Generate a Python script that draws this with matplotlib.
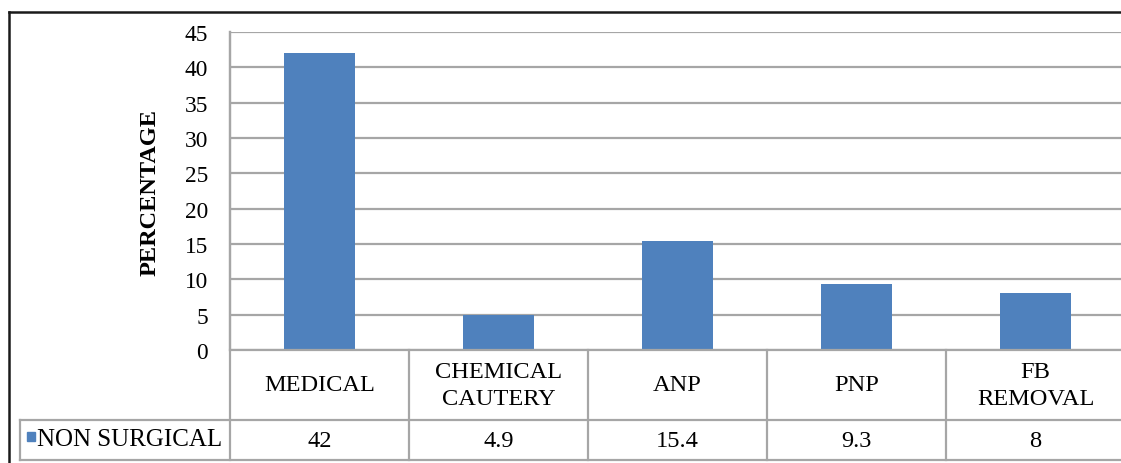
import matplotlib
matplotlib.use("Agg")
import matplotlib.pyplot as plt
from matplotlib.lines import Line2D
from matplotlib.transforms import blended_transform_factory

categories = ["MEDICAL", "CHEMICAL\nCAUTERY", "ANP", "PNP", "FB\nREMOVAL"]
values = [42, 4.9, 15.4, 9.3, 8]
value_labels = ["42", "4.9", "15.4", "9.3", "8"]
series_name = "NON SURGICAL"
yticks = [0, 5, 10, 15, 20, 25, 30, 35, 40, 45]

W, H = 1121, 464
plt.rcParams['font.family'] = ['Liberation Serif', 'DejaVu Serif']

fig = plt.figure(figsize=(W / 100, H / 100), dpi=100)
fig.patch.set_facecolor("white")

def fx(px):
    return px / W

def fy(py):
    return 1 - py / H

ax_left, ax_right, ax_top, ax_bot = 230, 1125, 33, 351
ax = fig.add_axes([fx(ax_left), fy(ax_bot), fx(ax_right - ax_left), (ax_bot - ax_top) / H])

grid_c = "#A6A6A6"
bar_c = "#4F81BD"
fs = 17.6

x = list(range(len(categories)))
ax.bar(x, values, width=0.40, color=bar_c, zorder=3)
ax.set_xlim(-0.5, len(categories) - 0.5)
ax.set_ylim(0, 45)
ax.set_yticks(yticks)
ax.set_yticklabels([str(t) for t in yticks], fontsize=16.8)
ax.tick_params(axis='y', length=0, pad=16)
ax.set_xticks([])
ax.yaxis.grid(True, color=grid_c, linewidth=1.6, zorder=0)
ax.set_axisbelow(True)
for s in ["top", "right", "bottom"]:
    ax.spines[s].set_visible(False)
ax.spines["left"].set_color(grid_c)
ax.spines["left"].set_linewidth(1.6)

ax.set_ylabel("PERCENTAGE", fontsize=17.5, fontweight="bold")
ax.yaxis.set_label_coords((161 - ax_left) / (ax_right - ax_left), 0.5)

# Data table
bt = blended_transform_factory(ax.transData, fig.transFigure)
row1_top, row1_bot, row2_bot = 351, 421, 461
lw = 1.6
for i in range(len(categories)):
    xb = i + 0.5
    fig.add_artist(Line2D([xb, xb], [fy(row1_top), fy(row2_bot)], transform=bt, color=grid_c, lw=lw))
fig.add_artist(Line2D([fx(ax_left), fx(ax_left)], [fy(ax_top), fy(row2_bot)], transform=fig.transFigure, color=grid_c, lw=lw))
fig.add_artist(Line2D([fx(ax_left), 1], [fy(row1_top), fy(row1_top)], transform=fig.transFigure, color=grid_c, lw=lw))
fig.add_artist(Line2D([fx(20), 1], [fy(row1_bot), fy(row1_bot)], transform=fig.transFigure, color=grid_c, lw=lw))
fig.add_artist(Line2D([fx(20), 1], [fy(row2_bot), fy(row2_bot)], transform=fig.transFigure, color=grid_c, lw=lw))
fig.add_artist(Line2D([fx(20), fx(20)], [fy(row1_bot), fy(row2_bot)], transform=fig.transFigure, color=grid_c, lw=lw))

for i, (c, v) in enumerate(zip(categories, value_labels)):
    fig.text(i, fy((row1_top + row1_bot) / 2), c, transform=bt, ha="center", va="center",
             fontsize=fs, linespacing=1.35)
    fig.text(i, fy((row1_bot + row2_bot) / 2 + 1), v, transform=bt, ha="center", va="center",
             fontsize=fs)

# legend key in table
fig.patches.append(plt.Rectangle((fx(27), fy(442)), fx(8), 9 / H, transform=fig.transFigure,
                                 color=bar_c, figure=fig))
fig.text(fx(37), fy(440), series_name, ha="left", va="center", fontsize=18)

# outer chart border
fig.add_artist(Line2D([fx(9), 1], [fy(13), fy(13)], transform=fig.transFigure, color="#1a1a1a", lw=1.8))
fig.add_artist(Line2D([fx(9), fx(9)], [fy(13), 0], transform=fig.transFigure, color="#1a1a1a", lw=1.8))

fig.savefig("out.png", dpi=100)
